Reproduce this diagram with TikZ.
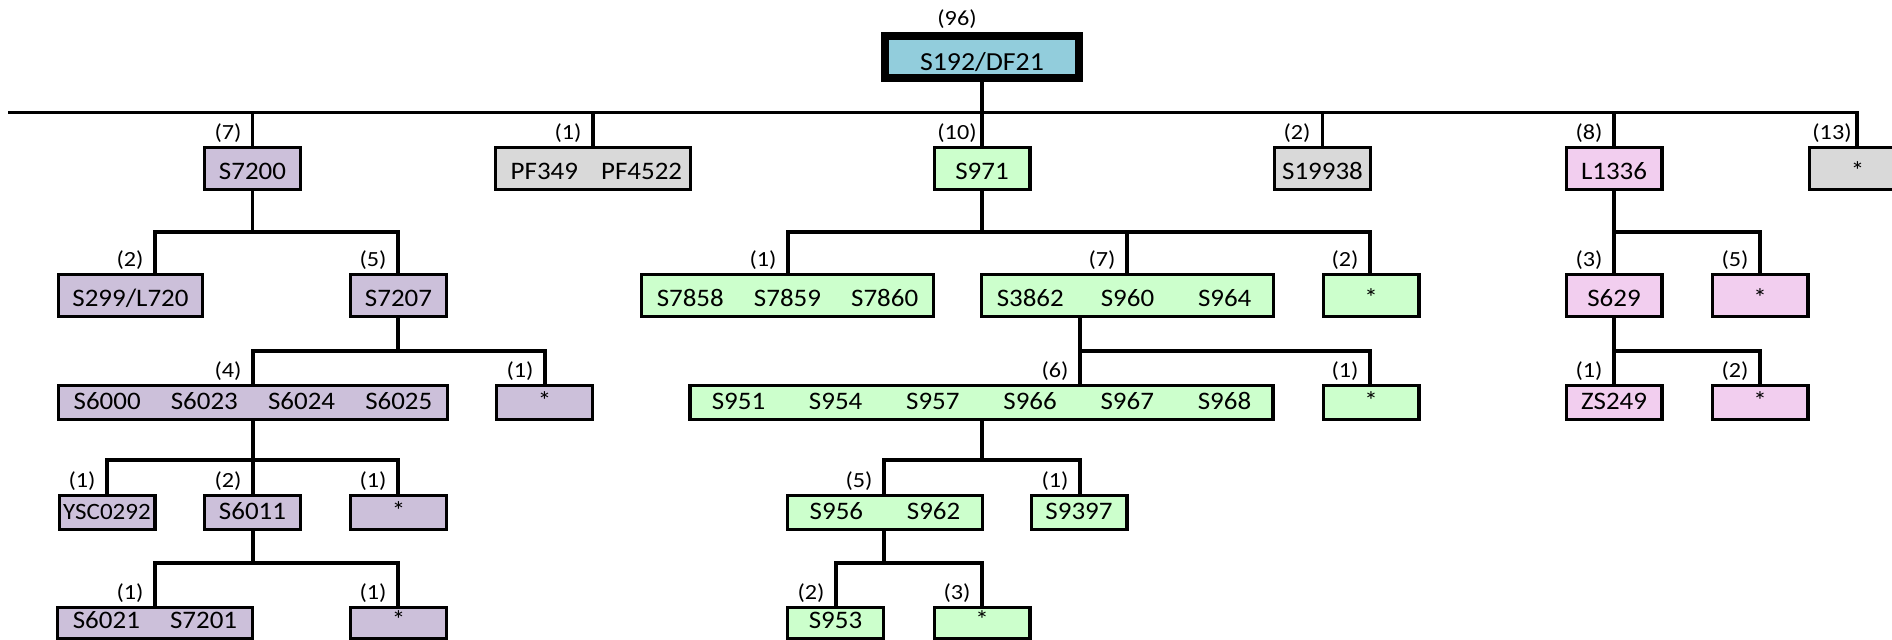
\documentclass[tikz,border=0pt]{standalone}
\usepackage{fontspec}
\setmainfont{Carlito}[FakeStretch=1.07]
\newfontfamily\lblf{Carlito}[FakeStretch=1.12]
\definecolor{cRoot}{RGB}{146,205,220}
\definecolor{cPur}{RGB}{204,192,218}
\definecolor{cGry}{RGB}{217,217,217}
\definecolor{cGrn}{RGB}{204,255,204}
\definecolor{cPnk}{RGB}{242,206,239}
\newcommand\cl[1]{\makebox[48.6pt]{#1}}
\tikzset{
 conn/.style={line width=1.65pt, line join=miter},
 box/.style={draw, line width=1.65pt, inner sep=0pt, font=\fontsize{12.6pt}{15pt}\selectfont, text depth=0pt, minimum width=47.85pt},
 rA/.style={minimum height=20.85pt, text height=11pt},
 rB/.style={minimum height=16.85pt, text height=7pt},
 rC/.style={minimum height=15.35pt, text height=5.5pt},
 lbl/.style={anchor=base, inner sep=0pt, font=\lblf\fontsize{10.8pt}{12pt}\selectfont},
}
\begin{document}
\begin{tikzpicture}[x=0.5pt,y=-0.5pt]
\useasboundingbox (0,0) rectangle (1892,640);
\fill[white] (0,0) rectangle (1892,640);
\clip (0,0) rectangle (1892,640);

% ---- nodes ----
\node[box, line width=4pt, fill=cRoot, minimum width=97pt, minimum height=21pt, text height=13.5pt, font=\fontsize{13pt}{15pt}\selectfont] (root) at (982,57) {S192/DF21};

\node[box,rA,fill=cPur] (a1) at (252.5,168.5) {S7200};
\node[box,rA,fill=cGry,minimum width=96.35pt] (a2) at (593,168.5) {\cl{PF349}\cl{PF4522}};
\node[box,rA,fill=cGrn] (a3) at (982,168.5) {S971};
\node[box,rA,fill=cGry] (a4) at (1322.5,168.5) {S19938};
\node[box,rA,fill=cPnk] (a5) at (1614,168.5) {L1336};
\node[box,rA,fill=cGry] (a6) at (1857.5,168.5) {*};

\node[box,rA,fill=cPur,minimum width=71.85pt] (b1) at (130.5,295.5) {S299/L720};
\node[box,rA,fill=cPur] (b2) at (398.5,295.5) {S7207};
\node[box,rA,fill=cGrn] (b3) at (787.5,295.5) {\cl{S7858}\cl{S7859}\cl{S7860}};
\node[box,rA,fill=cGrn] (b4) at (1127.5,295.5) {\cl{S3862}\cl{S960}\cl{S964}};
\node[box,rA,fill=cGrn] (b5) at (1371,295.5) {*};
\node[box,rA,fill=cPnk] (b6) at (1614,295.5) {S629};
\node[box,rA,fill=cPnk] (b7) at (1760,295.5) {*};

\node[box,rB,fill=cPur] (c1) at (253,402.5) {\cl{S6000}\cl{S6023}\cl{S6024}\cl{S6025}};
\node[box,rB,fill=cPur] (c2) at (544.5,402.5) {*};
\node[box,rB,fill=cGrn] (c3) at (981.5,402.5) {\cl{S951}\cl{S954}\cl{S957}\cl{S966}\cl{S967}\cl{S968}};
\node[box,rB,fill=cGrn] (c4) at (1371,402.5) {*};
\node[box,rB,fill=cPnk] (c5) at (1614,402.5) {ZS249};
\node[box,rB,fill=cPnk] (c6) at (1760,402.5) {*};

\node[box,rB,fill=cPur,font=\fontsize{11.7pt}{14pt}\selectfont] (d1) at (107,512.5) {YSC0292};
\node[box,rB,fill=cPur] (d2) at (252.5,512.5) {S6011};
\node[box,rB,fill=cPur] (d3) at (398.5,512.5) {*};
\node[box,rB,fill=cGrn] (d4) at (885,512.5) {\cl{S956}\cl{S962}};
\node[box,rB,fill=cGrn] (d5) at (1079,512.5) {S9397};

\node[box,rC,fill=cPur] (e1) at (155,623) {\cl{S6021}\cl{S7201}};
\node[box,rC,fill=cPur] (e2) at (398.5,623) {*};
\node[box,rC,fill=cGrn] (e3) at (835.5,623) {S953};
\node[box,rC,fill=cGrn] (e4) at (982,623) {*};

% ---- count labels ----
\node[lbl] (n0) at (957,26) {(96)};
\node[lbl] (n11) at (228,140) {(7)};
\node[lbl] (n12) at (568,140) {(1)};
\node[lbl] (n13) at (957,140) {(10)};
\node[lbl] (n14) at (1297,140) {(2)};
\node[lbl] (n15) at (1589,140) {(8)};
\node[lbl] (n16) at (1832,140) {(13)};
\node[lbl] (n21) at (130,267) {(2)};
\node[lbl] (n22) at (373,267) {(5)};
\node[lbl] (n23) at (763,267) {(1)};
\node[lbl] (n24) at (1102,267) {(7)};
\node[lbl] (n25) at (1345,267) {(2)};
\node[lbl] (n26) at (1589,267) {(3)};
\node[lbl] (n27) at (1735,267) {(5)};
\node[lbl] (n31) at (228,378) {(4)};
\node[lbl] (n32) at (520,378) {(1)};
\node[lbl] (n33) at (1055,378) {(6)};
\node[lbl] (n34) at (1345,378) {(1)};
\node[lbl] (n35) at (1589,378) {(1)};
\node[lbl] (n36) at (1735,378) {(2)};
\node[lbl] (n41) at (82,488) {(1)};
\node[lbl] (n42) at (228,488) {(2)};
\node[lbl] (n43) at (373,488) {(1)};
\node[lbl] (n44) at (859,488) {(5)};
\node[lbl] (n45) at (1055,488) {(1)};
\node[lbl] (n51) at (130,600) {(1)};
\node[lbl] (n52) at (373,600) {(1)};
\node[lbl] (n53) at (811,600) {(2)};
\node[lbl] (n54) at (957,600) {(3)};

% ---- connectors ----
% root level
\coordinate (m0) at (8,112.7);
\coordinate (mE) at (1857,112.7);
\draw[conn] (m0) -- (mE) -- (a6.north -| mE);
\draw[conn] (root.south) -- (root.south |- m0);
\foreach \n in {a1,a2,a3,a4,a5} \draw[conn] (\n.north |- m0) -- (\n.north);

% S7200
\coordinate (f1l) at (155,232); \coordinate (f1r) at (398,232);
\draw[conn] (a1.south) -- (a1.south |- f1l);
\draw[conn] (b1.north -| f1l) |- (f1r) -- (b2.north -| f1r);
% S7207
\coordinate (f2l) at (253,351); \coordinate (f2r) at (545,351);
\draw[conn] (b2.south -| f1r) -- (f1r |- f2l);
\draw[conn] (c1.north -| f2l) |- (f2r) -- (c2.north -| f2r);
% S6000...
\coordinate (f3l) at (107,460); \coordinate (f3m) at (253,460); \coordinate (f3r) at (398,460);
\draw[conn] (c1.south -| f3m) -- (d2.north -| f3m);
\draw[conn] (d1.north -| f3l) |- (f3r) -- (d3.north -| f3r);
% S6011
\coordinate (f4l) at (155,563); \coordinate (f4m) at (253,563); \coordinate (f4r) at (398,563);
\draw[conn] (d2.south -| f4m) -- (f4m);
\draw[conn] (e1.north -| f4l) |- (f4r) -- (e2.north -| f4r);

% S971
\coordinate (g1l) at (788,232); \coordinate (g1m) at (1127,232); \coordinate (g1r) at (1370,232); \coordinate (g1p) at (982,232);
\draw[conn] (a3.south -| g1p) -- (g1p);
\draw[conn] (b3.north -| g1l) |- (g1r) -- (b5.north -| g1r);
\draw[conn] (g1m) -- (b4.north -| g1m);
% S3862
\coordinate (g2l) at (1080,351); \coordinate (g2r) at (1370,351);
\draw[conn] (b4.south -| g2l) -- (c3.north -| g2l);
\draw[conn] (g2l) -- (g2r) -- (c4.north -| g2r);
% S951
\coordinate (g3l) at (884,460); \coordinate (g3p) at (982,460); \coordinate (g3r) at (1080,460);
\draw[conn] (c3.south -| g3p) -- (g3p);
\draw[conn] (d4.north -| g3l) |- (g3r) -- (d5.north -| g3r);
% S956
\coordinate (g4l) at (836,563); \coordinate (g4p) at (884,563); \coordinate (g4r) at (982,563);
\draw[conn] (d4.south -| g4p) -- (g4p);
\draw[conn] (e3.north -| g4l) |- (g4r) -- (e4.north -| g4r);

% L1336
\coordinate (h1l) at (1614,232); \coordinate (h1r) at (1760,232);
\draw[conn] (a5.south -| h1l) -- (b6.north -| h1l);
\draw[conn] (h1l) -- (h1r) -- (b7.north -| h1r);
% S629
\coordinate (h2l) at (1614,351); \coordinate (h2r) at (1760,351);
\draw[conn] (b6.south -| h2l) -- (c5.north -| h2l);
\draw[conn] (h2l) -- (h2r) -- (c6.north -| h2r);
\end{tikzpicture}
\end{document}
